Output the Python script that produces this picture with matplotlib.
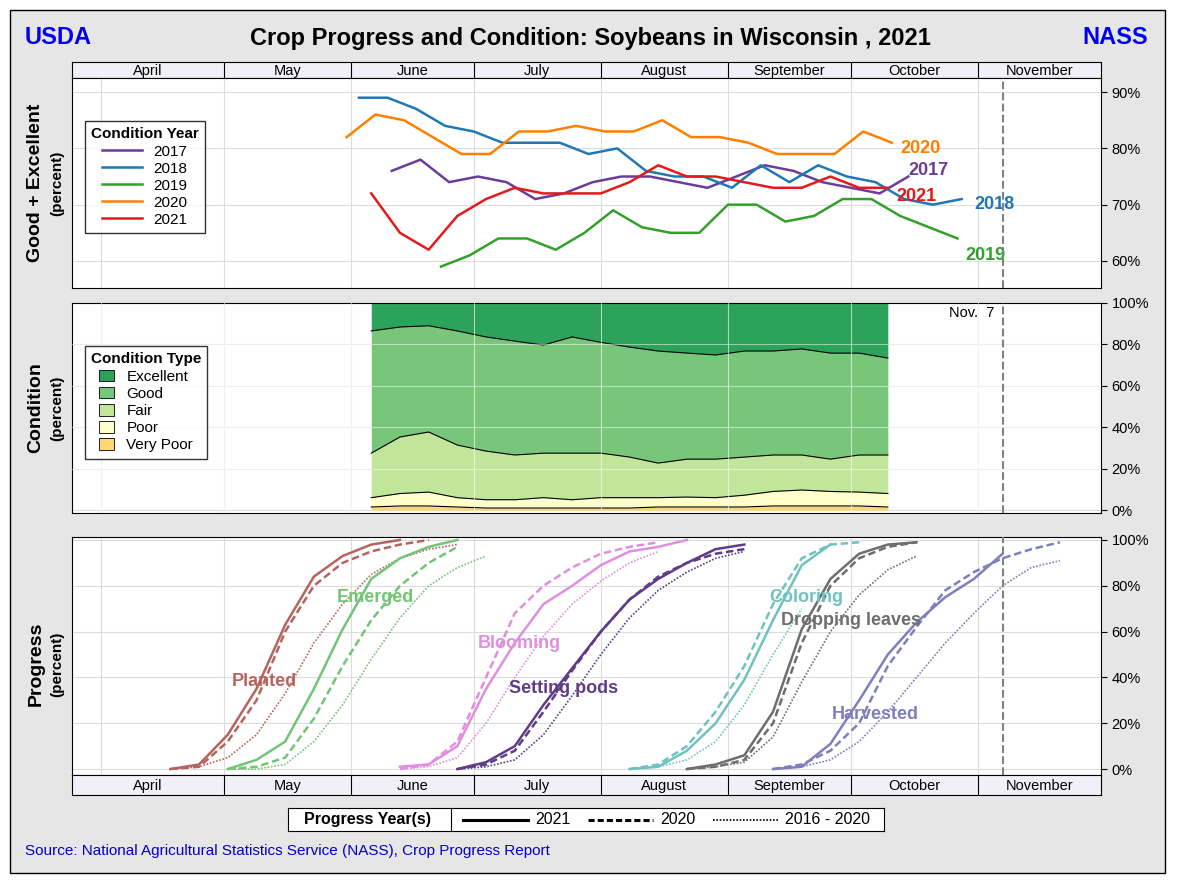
import matplotlib
matplotlib.use("Agg")
import matplotlib.pyplot as plt
import numpy as np
from matplotlib.patches import Rectangle
from matplotlib.lines import Line2D

plt.rcParams["font.family"] = ["Liberation Sans", "DejaVu Sans"]

# ---- data (x = day of year 2021, weekly points) ----
month_names = ["April", "May", "June", "July", "August", "September", "October", "November"]
month_starts = [91, 121, 152, 182, 213, 244, 274, 305, 335]
XMIN, XMAX = 84, 335
NOV7 = 311

cond_years = ["2017", "2018", "2019", "2020", "2021"]
cond_start = {"2017": 162, "2018": 154, "2019": 174, "2020": 151, "2021": 157}
cond_vals = {
    "2017": [76, 78, 74, 75, 74, 71, 72, 74, 75, 75, 74, 73, 75, 77, 76, 74, 73, 72, 75],
    "2018": [89, 89, 87, 84, 83, 81, 81, 81, 79, 80, 76, 75, 75, 73, 77, 74, 77, 75, 74, 71, 70, 71],
    "2019": [59, 61, 64, 64, 62, 65, 69, 66, 65, 65, 70, 70, 67, 68, 71, 71, 68, 66, 64],
    "2020": [82, 86, 85, 82, 79, 79, 83, 83, 84, 83, 83, 85, 82, 82, 81, 79, 79, 79, 83, 81],
    "2021": [72, 65, 62, 68, 71, 73, 72, 72, 72, 74, 77, 75, 75, 74, 73, 73, 75, 73, 73],
}
cond_colors = {"2017": "#6a3d9a", "2018": "#1f78b4", "2019": "#33a02c", "2020": "#ff7f00", "2021": "#e31a1c"}

type_start = 157
very_poor = [1.5, 2, 2, 1.5, 1, 1, 1, 1, 1, 1, 1.5, 1.5, 1.5, 1.5, 2, 2, 2, 2, 1.5]
poor = [4.5, 6, 6.7, 4.5, 4, 4, 5, 4, 5, 5, 4.5, 4.8, 4.5, 5.7, 7, 7.7, 7, 6.7, 6.5]
fair = [21.5, 27.3, 29, 25.4, 23.5, 21.6, 21.5, 22.5, 21.5, 19.6, 16.7, 18.3, 18.6, 18.4, 17.6, 16.9, 15.6, 17.9, 18.6]
good = [59, 53.1, 51.3, 55.1, 55.1, 55, 52.2, 56.1, 53.5, 53.1, 54.1, 51.2, 50.3, 51.2, 50.2, 51.2, 51.2, 49.2, 46.8]
excellent = [13.5, 11.6, 11, 13.5, 16.4, 18.4, 20.3, 16.4, 19, 21.3, 23.2, 24.2, 25.1, 23.2, 23.2, 22.2, 24.2, 24.2, 26.6]
type_names = ["Excellent", "Good", "Fair", "Poor", "Very Poor"]
type_colors = ["#2ca25a", "#78c679", "#c2e699", "#ffffcc", "#fed676"]

stages = ["Planted", "Emerged", "Blooming", "Setting pods", "Coloring", "Dropping leaves", "Harvested"]
stage_start = [108, 122, 164, 178, 220, 234, 255]
stage_colors = ["#b5655d", "#74c476", "#e08ee0", "#5e3c87", "#6fc2c0", "#6e6e6e", "#7f7fbd"]
prog_2021 = [
    [0, 2, 15, 35, 63, 84, 93, 98, 100],
    [0, 4, 12, 35, 61, 83, 92, 97, 100],
    [1, 2, 10, 35, 55, 72, 80, 89, 95, 97, 100],
    [0, 3, 10, 28, 44, 60, 74, 83, 90, 96, 98],
    [0, 1, 8, 20, 39, 65, 89, 98],
    [0, 2, 6, 25, 61, 83, 94, 98, 99],
    [0, 1, 11, 30, 50, 64, 75, 83, 94],
]
prog_2020 = [
    [0, 1, 12, 30, 60, 80, 90, 95, 98, 100],
    [0, 1, 5, 22, 45, 65, 80, 90, 97],
    [0, 2, 12, 40, 68, 80, 88, 94, 97, 99],
    [0, 2, 8, 25, 43, 60, 74, 84, 90, 94, 96],
    [0, 2, 10, 25, 45, 72, 92, 98, 99],
    [0, 1, 4, 20, 55, 80, 92, 97, 99],
    [0, 2, 8, 20, 45, 62, 78, 86, 92, 96, 99],
]
prog_avg = [
    [0, 1, 5, 15, 33, 55, 72, 85, 92, 96, 98],
    [0, 0, 2, 12, 28, 48, 66, 80, 88, 93],
    [0, 1, 5, 20, 40, 58, 72, 82, 90, 95],
    [0, 1, 4, 15, 32, 50, 66, 78, 86, 92, 95],
    [0, 1, 4, 12, 28, 50, 70],
    [0, 1, 3, 14, 38, 60, 76, 87, 93],
    [0, 1, 4, 12, 25, 40, 55, 68, 80, 88, 91],
]
stage_label_pos = [(131, 38), (158, 75), (193, 55), (204, 35), (263, 75), (274, 65), (280, 24)]


def weeks(start, n):
    return start + 7 * np.arange(n)


W, H = 1179, 885
fig = plt.figure(figsize=(W / 100, H / 100), dpi=100)
fig.patches.append(Rectangle((10 / W, 12 / H), 1155 / W, 863 / H, transform=fig.transFigure,
                             facecolor="#e6e6e6", edgecolor="black", lw=1, zorder=-10))


def fax(x0, y0, x1, y1):
    return fig.add_axes([x0 / W, 1 - y1 / H, (x1 - x0) / W, (y1 - y0) / H])


def month_strip(ax):
    ax.set_facecolor("#f1f0f8")
    ax.set_xlim(XMIN, XMAX)
    ax.set_ylim(0, 1)
    ax.set_xticks([])
    ax.set_yticks([])
    for m in month_starts[1:-1]:
        ax.axvline(m, color="black", lw=0.8)
    cells = [XMIN] + month_starts[1:]
    for i, name in enumerate(month_names):
        ax.text((cells[i] + cells[i + 1]) / 2, 0.45, name, ha="center", va="center", fontsize=10.5)


def base(ax, ylim, ticks):
    ax.set_xlim(XMIN, XMAX)
    ax.set_ylim(*ylim)
    ax.set_xticks([])
    ax.yaxis.tick_right()
    ax.set_yticks(ticks)
    ax.set_yticklabels([f"{t}%" for t in ticks], fontsize=10.5)
    ax.tick_params(axis="y", length=4)
    for t in ticks:
        ax.axhline(t, color="#dcdcdc", lw=0.8, zorder=0)
    for m in month_starts[:-1]:
        ax.axvline(m, color="#dcdcdc", lw=0.8, zorder=0)
    ax.axvline(NOV7, color="gray", ls="--", lw=1.5, zorder=5)


# ---- panel 1 ----
strip = fax(72, 62, 1101, 78)
month_strip(strip)
ax1 = fax(72, 78, 1101, 288)
base(ax1, (55.2, 92.5), [60, 70, 80, 90])
label_off = {"2017": (0, 1), "2018": (3, -1), "2019": (2, -3), "2020": (2, -1), "2021": (2, -1.5)}
handles = []
for yr in cond_years:
    v = cond_vals[yr]
    x = weeks(cond_start[yr], len(v))
    h, = ax1.plot(x, v, color=cond_colors[yr], lw=1.8, label=yr)
    handles.append(h)
    dx, dy = label_off[yr]
    ax1.text(x[-1] + dx, v[-1] + dy, yr, color=cond_colors[yr], fontsize=13, fontweight="bold", va="center")
lg = ax1.legend(handles=handles, title="Condition Year", loc="upper left", bbox_to_anchor=(0.005, 0.83),
                fontsize=11, frameon=True, fancybox=False, edgecolor="black", handlelength=2.6,
                borderpad=0.4, labelspacing=0.2)
lg.get_title().set_fontweight("bold")
lg.get_title().set_fontsize(11)
fig.text(36 / W, 1 - 183 / H, "Good + Excellent", rotation=90, ha="center", va="center", fontsize=14, fontweight="bold")
fig.text(57 / W, 1 - 183 / H, "(percent)", rotation=90, ha="center", va="center", fontsize=11, fontweight="bold")

# ---- panel 2 ----
ax2 = fax(72, 303, 1101, 513)
base(ax2, (-1.4, 100), [0, 20, 40, 60, 80, 100])
x = weeks(type_start, len(good))
layers = [very_poor, poor, fair, good, excellent]
stack = np.cumsum(np.array(layers), axis=0)
bottom = np.zeros(len(x))
for i, layer in enumerate(layers):
    ax2.fill_between(x, bottom, stack[i], color=type_colors[::-1][i], lw=0, zorder=1)
    if i < 4:
        ax2.plot(x, stack[i], color="black", lw=0.8, zorder=2)
    bottom = stack[i]
for m in month_starts[:-1]:
    ax2.axvline(m, color="white", lw=0.8, alpha=0.6, zorder=3)
for t in [20, 40, 60, 80]:
    ax2.axhline(t, color="white", lw=0.8, alpha=0.5, zorder=3)
ax2.text(NOV7 - 13, 95, "Nov.  7", fontsize=10.5, va="center")
th = [Rectangle((0, 0), 1, 1, facecolor=c, edgecolor="black", lw=0.6) for c in type_colors]
lg2 = ax2.legend(th, type_names, title="Condition Type", loc="upper left", bbox_to_anchor=(0.005, 0.83),
                 fontsize=11, frameon=True, fancybox=False, edgecolor="black", handlelength=1.0,
                 handleheight=0.8, borderpad=0.4, labelspacing=0.2)
lg2.get_title().set_fontweight("bold")
lg2.get_title().set_fontsize(11)
fig.text(36 / W, 1 - 408 / H, "Condition", rotation=90, ha="center", va="center", fontsize=14, fontweight="bold")
fig.text(57 / W, 1 - 408 / H, "(percent)", rotation=90, ha="center", va="center", fontsize=11, fontweight="bold")

# ---- panel 3 ----
ax3 = fax(72, 537, 1101, 775)
base(ax3, (-2.6, 101.3), [0, 20, 40, 60, 80, 100])
for i, name in enumerate(stages):
    c = stage_colors[i]
    s = stage_start[i]
    ax3.plot(weeks(s, len(prog_2021[i])), prog_2021[i], color=c, lw=1.8, ls="-")
    ax3.plot(weeks(s, len(prog_2020[i])), prog_2020[i], color=c, lw=1.8, ls=(0, (3, 1.5)))
    ax3.plot(weeks(s, len(prog_avg[i])), prog_avg[i], color=c, lw=1.2, ls=(0, (1, 1)))
    lx, ly = stage_label_pos[i]
    ax3.text(lx, ly, name, color=c, fontsize=13, fontweight="bold", ha="center", va="center")
fig.text(36 / W, 1 - 664 / H, "Progress", rotation=90, ha="center", va="center", fontsize=14, fontweight="bold")
fig.text(57 / W, 1 - 664 / H, "(percent)", rotation=90, ha="center", va="center", fontsize=11, fontweight="bold")
strip2 = fax(72, 775, 1101, 795)
month_strip(strip2)

# ---- bottom legend ----
lax = fax(288, 808, 884, 831)
lax.set_facecolor("white")
lax.set_xlim(0, 596)
lax.set_ylim(0, 1)
lax.set_xticks([])
lax.set_yticks([])
lax.text(80, 0.5, "Progress Year(s)", fontsize=11.5, fontweight="bold", ha="center", va="center")
lax.axvline(163, color="black", lw=0.8)
for (x0, lbl, ls, lw) in [(175, "2021", "-", 2.2), (300, "2020", (0, (2, 1)), 2.2), (425, "2016 - 2020", (0, (1, 1)), 1.2)]:
    lax.add_line(Line2D([x0, x0 + 65], [0.5, 0.5], color="black", ls=ls, lw=lw))
    lax.text(x0 + 72, 0.5, lbl, fontsize=11.5, va="center")

# ---- titles ----
fig.text(590 / W, 1 - 38 / H, "Crop Progress and Condition: Soybeans in Wisconsin , 2021", ha="center", va="center",
         fontsize=17, fontweight="bold")
fig.text(25 / W, 1 - 38 / H, "USDA", color="#0000ee", ha="left", va="center", fontsize=17, fontweight="bold")
fig.text(1148 / W, 1 - 38 / H, "NASS", color="#0000ee", ha="right", va="center", fontsize=17, fontweight="bold")
fig.text(25 / W, 1 - 851 / H, "Source: National Agricultural Statistics Service (NASS), Crop Progress Report",
         color="#0000cc", ha="left", va="center", fontsize=11)

fig.savefig("out.png", dpi=100)
